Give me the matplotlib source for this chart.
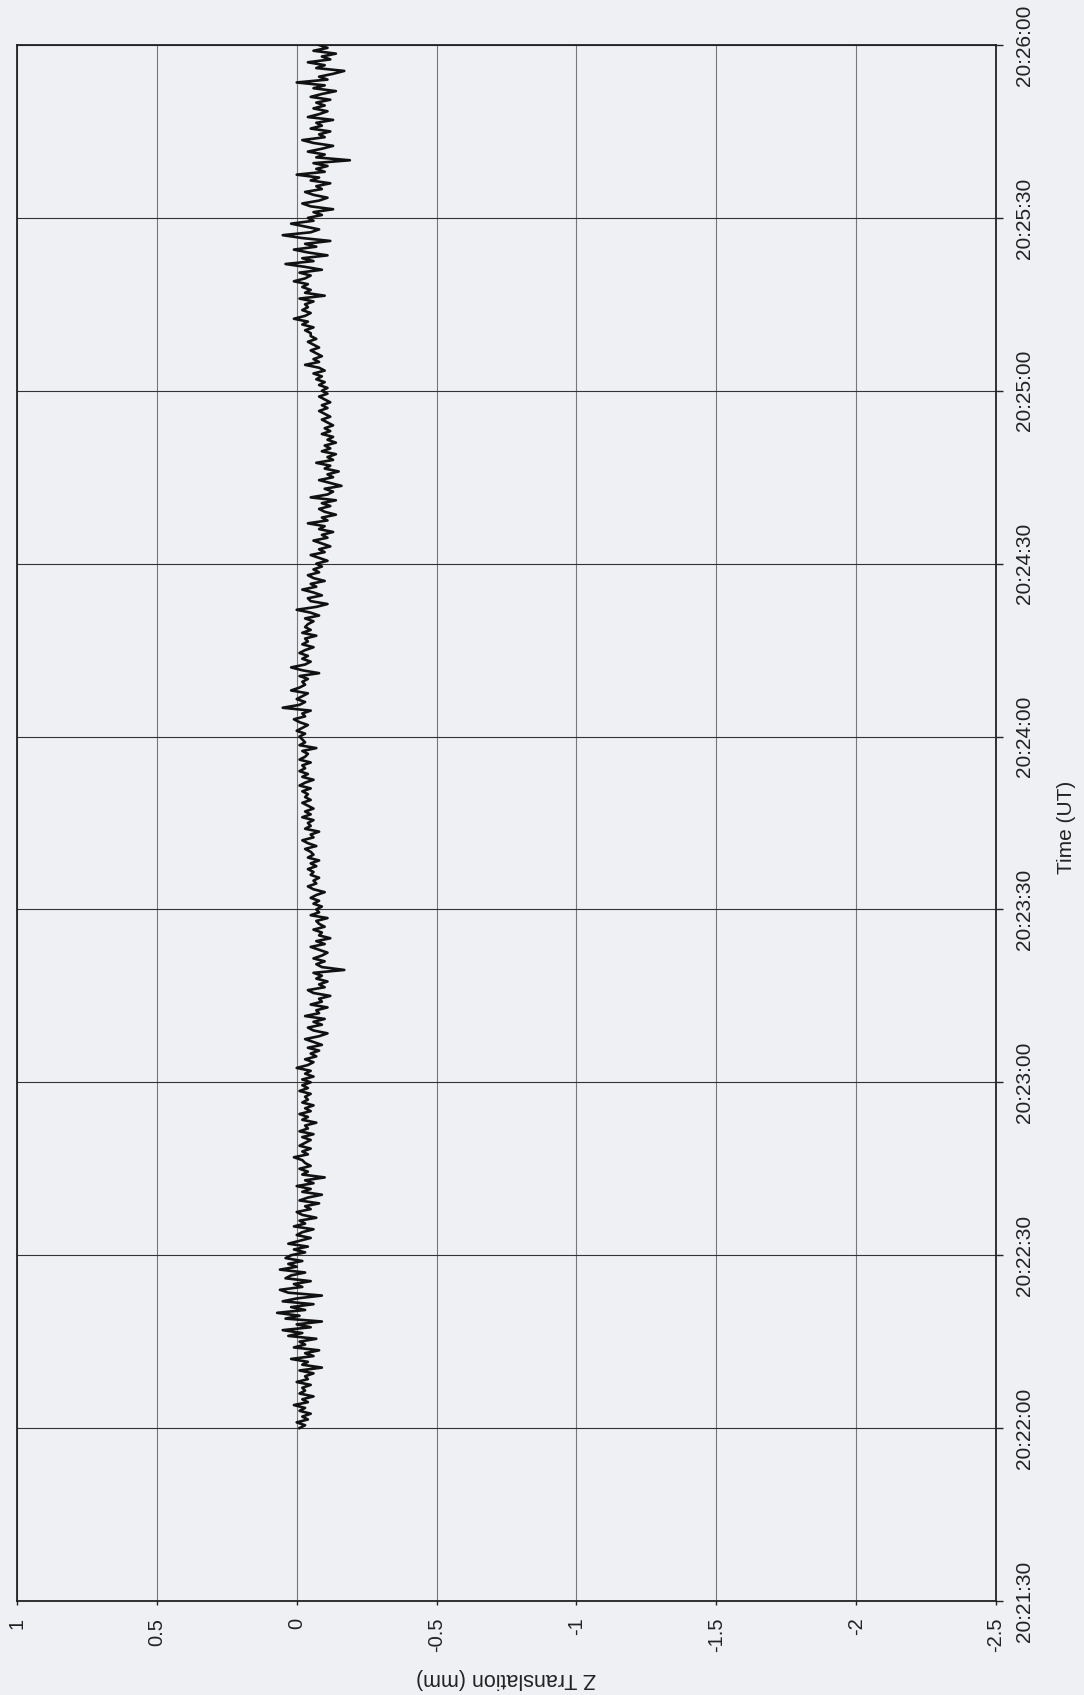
import datetime as dt
import matplotlib
matplotlib.use("Agg")
import matplotlib.pyplot as plt
import matplotlib.dates as mdates
import numpy as np

plt.rcParams['font.family'] = ['Liberation Sans', 'DejaVu Sans']

# Z translation (mm), one sample every 0.5 s from 20:22:00 to 20:26:00
z_mm = [
    -0.01, -0.03, 0.00, -0.04, -0.02, -0.05, -0.01, -0.03, 0.01, -0.04, -0.02, -0.06, -0.01, -0.03, -0.02, -0.05, 0.00, -0.04, -0.03, -0.06,
    -0.01, -0.09, -0.02, -0.04, 0.02, -0.06, -0.03, -0.08, 0.01, -0.03, -0.01, -0.07, 0.03, -0.02, 0.05, -0.05, 0.00, -0.09, 0.04, -0.01,
    0.07, -0.03, 0.02, -0.06, 0.05, 0.00, -0.09, 0.03, 0.06, -0.02, 0.01, -0.05, 0.04, 0.02, -0.03, 0.06, 0.00, 0.03, -0.02, 0.04,
    0.02, -0.03, 0.01, -0.04, 0.03, -0.01, -0.05, 0.00, -0.02, -0.06, 0.01, -0.03, -0.01, -0.07, -0.02, 0.00, -0.05, -0.03, -0.08, -0.01,
    -0.04, -0.09, -0.02, -0.05, 0.00, -0.06, -0.03, -0.10, -0.02, -0.04, -0.01, -0.05, -0.03, -0.02, 0.01, -0.04, -0.02, -0.05, -0.01, -0.03,
    -0.05, -0.02, -0.06, -0.01, -0.04, -0.03, -0.07, -0.02, -0.04, -0.01, -0.05, -0.03, -0.06, -0.02, -0.04, -0.03, -0.05, -0.01, -0.04, -0.02,
    -0.05, -0.02, -0.06, -0.03, -0.05, 0.00, -0.04, -0.06, -0.03, -0.07, -0.05, -0.08, -0.04, -0.09, -0.06, -0.03, -0.08, -0.11, -0.06, -0.04,
    -0.09, -0.06, -0.10, -0.03, -0.08, -0.07, -0.11, -0.05, -0.09, -0.08, -0.12, -0.06, -0.04, -0.10, -0.08, -0.11, -0.07, -0.09, -0.06, -0.17,
    -0.09, -0.07, -0.10, -0.06, -0.09, -0.11, -0.08, -0.05, -0.10, -0.07, -0.12, -0.08, -0.09, -0.06, -0.10, -0.08, -0.07, -0.11, -0.05, -0.08,
    -0.07, -0.09, -0.06, -0.08, -0.05, -0.07, -0.10, -0.06, -0.04, -0.07, -0.06, -0.08, -0.05, -0.06, -0.04, -0.07, -0.05, -0.08, -0.04, -0.06,
    -0.05, -0.03, -0.07, -0.04, -0.02, -0.06, -0.05, -0.08, -0.03, -0.05, -0.04, -0.06, -0.02, -0.05, -0.03, -0.06, -0.04, -0.02, -0.05, -0.03,
    -0.04, -0.02, -0.05, -0.01, -0.03, -0.06, -0.02, -0.04, -0.01, -0.03, -0.02, -0.05, -0.01, -0.03, -0.04, -0.02, -0.07, -0.01, -0.03, -0.02,
    -0.01, -0.03, 0.00, -0.02, -0.04, -0.01, 0.01, -0.03, -0.02, -0.05, 0.05, -0.01, -0.03, 0.00, -0.02, -0.04, 0.02, -0.01, -0.03, -0.02,
    -0.04, -0.01, -0.08, -0.02, 0.02, -0.03, -0.05, -0.02, -0.04, -0.01, -0.03, -0.06, -0.02, -0.04, -0.03, -0.07, -0.02, -0.05, -0.03, -0.04,
    -0.06, -0.03, -0.08, -0.05, 0.00, -0.07, -0.11, -0.05, -0.04, -0.09, -0.06, -0.02, -0.07, -0.05, -0.10, -0.06, -0.04, -0.08, -0.06, -0.09,
    -0.07, -0.11, -0.08, -0.05, -0.10, -0.08, -0.12, -0.09, -0.06, -0.11, -0.09, -0.13, -0.08, -0.10, -0.04, -0.11, -0.09, -0.14, -0.10, -0.08,
    -0.12, -0.09, -0.14, -0.05, -0.11, -0.13, -0.10, -0.16, -0.12, -0.08, -0.13, -0.11, -0.15, -0.10, -0.12, -0.07, -0.13, -0.11, -0.14, -0.09,
    -0.12, -0.10, -0.14, -0.11, -0.13, -0.09, -0.12, -0.10, -0.13, -0.11, -0.09, -0.12, -0.10, -0.08, -0.11, -0.09, -0.12, -0.10, -0.08, -0.11,
    -0.09, -0.11, -0.08, -0.10, -0.07, -0.09, -0.06, -0.10, -0.08, -0.03, -0.08, -0.06, -0.09, -0.07, -0.05, -0.08, -0.06, -0.04, -0.07, -0.05,
    -0.05, -0.03, -0.06, -0.02, -0.04, 0.01, -0.03, -0.05, -0.02, -0.04, -0.03, -0.06, -0.01, -0.10, -0.03, -0.05, -0.02, -0.04, 0.01, -0.03,
    -0.05, -0.01, -0.09, -0.03, 0.04, -0.06, -0.02, -0.11, -0.04, 0.01, -0.07, -0.03, -0.12, -0.02, 0.05, -0.05, -0.08, -0.03, 0.02, -0.06,
    -0.04, -0.09, -0.06, -0.13, -0.05, -0.02, -0.08, -0.11, -0.06, -0.03, -0.09, -0.07, -0.12, -0.05, -0.08, 0.00, -0.10, -0.07, -0.11, -0.06,
    -0.19, -0.07, -0.10, -0.04, -0.09, -0.13, -0.06, -0.02, -0.10, -0.08, -0.12, -0.05, -0.09, -0.07, -0.13, -0.04, -0.08, -0.11, -0.06, -0.10,
    -0.07, -0.12, -0.05, -0.09, -0.14, -0.06, -0.10, 0.00, -0.11, -0.08, -0.13, -0.17, -0.07, -0.10, -0.04, -0.12, -0.09, -0.14, -0.06, -0.11,
    -0.08,
]
start = dt.datetime(2000, 1, 1, 20, 22, 0)
times = [start + dt.timedelta(seconds=0.5 * i) for i in range(len(z_mm))]

z_ticks = [1, 0.5, 0, -0.5, -1, -1.5, -2, -2.5]
z_labels = ['1', '0.5', '0', '-0.5', '-1', '-1.5', '-2', '-2.5']
t_min = dt.datetime(2000, 1, 1, 20, 21, 30)
t_max = dt.datetime(2000, 1, 1, 20, 26, 0)

bg = '#eef0f4'
fig = plt.figure(figsize=(10.84, 16.95), dpi=100, facecolor=bg)
ax = fig.add_axes([17 / 1084, 94 / 1695, 979 / 1084, 1556 / 1695], facecolor=bg)

ax.plot(z_mm, times, color='#111111', lw=1.9, zorder=3)

ax.set_xlim(1, -2.5)
ax.set_ylim(t_min, t_max)
ax.set_xticks(z_ticks)
ax.set_xticklabels(z_labels, rotation=90, fontsize=14.5, color='#222222')
ax.yaxis.set_major_locator(mdates.SecondLocator(bysecond=[0, 30]))
ax.yaxis.set_major_formatter(mdates.DateFormatter('%H:%M:%S'))
ax.yaxis.tick_right()
for lab in ax.get_yticklabels():
    lab.set_rotation(90)
    lab.set_va('center')
    lab.set_fontsize(15)
    lab.set_color('#222222')

ax.tick_params(axis='x', direction='out', length=3, width=1, pad=9, colors='#222222')
ax.tick_params(axis='y', direction='out', length=5, width=1, pad=9, colors='#222222')

ax.grid(axis='y', color='#333333', lw=0.8)
ax.grid(axis='x', color='#777777', lw=0.8)
ax.set_axisbelow(True)
for s in ax.spines.values():
    s.set_color('#222222')
    s.set_linewidth(1.3)

fig.text(1067 / 1084, 1 - 827 / 1695, 'Time (UT)', rotation=90, ha='center', va='center',
         fontsize=15, color='#222222')
fig.text(506 / 1084, 1 - 1678 / 1695, 'Z Translation (mm)', rotation=180, ha='center', va='center',
         fontsize=15.5, color='#222222')

fig.savefig('out.png', dpi=100, facecolor=bg)
